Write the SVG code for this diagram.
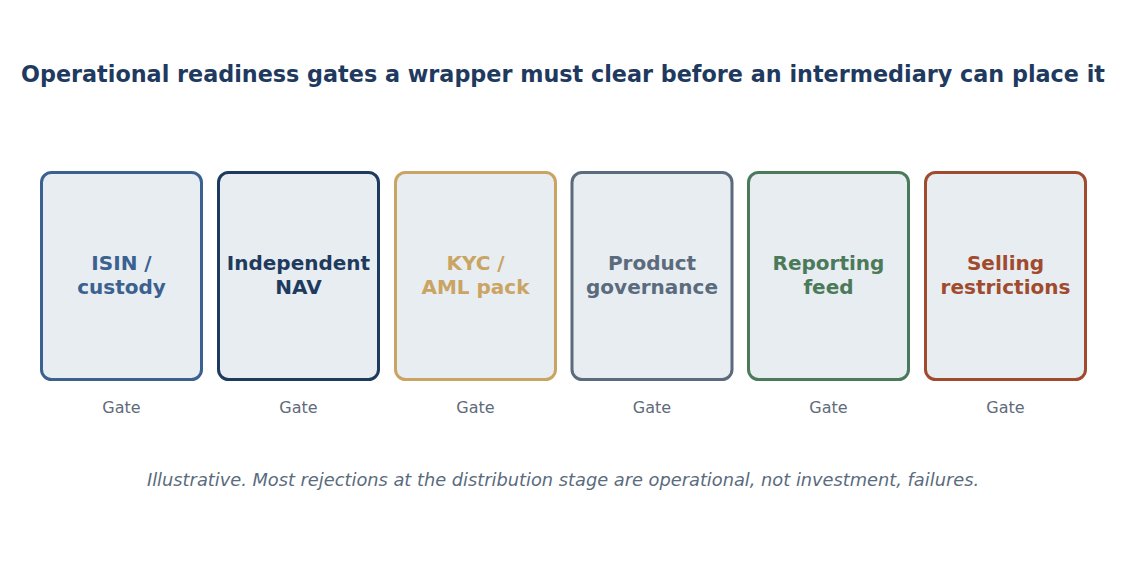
<svg xmlns="http://www.w3.org/2000/svg" width="1127" height="563" viewBox="0 0 1127 563">
<style>
text{font-family:"DejaVu Sans",sans-serif;text-anchor:middle}
.t{font-size:22.3px;font-weight:bold;fill:#1f3a5f}
.b{fill:#e8edf1;stroke-width:3}
.l{font-size:20px;font-weight:bold}
.g{font-size:16px;fill:#5f6b7a}
.c{font-size:17.8px;font-style:italic;fill:#5a6b7d}
</style>
<rect width="1127" height="563" fill="#fff"/>
<text class="t" x="563" y="82">Operational readiness gates a wrapper must clear before an intermediary can place it</text>
<g id="n1"><rect class="b" x="41.5" y="172.5" width="160" height="207" rx="10" stroke="#3a6190"/><text class="l" fill="#3a6190" x="121.5" y="270">ISIN /</text><text class="l" fill="#3a6190" x="121.5" y="294">custody</text><text class="g" x="121.5" y="413">Gate</text></g>
<g id="n2"><rect class="b" x="218.5" y="172.5" width="160" height="207" rx="10" stroke="#1f3a5f"/><text class="l" fill="#1f3a5f" x="298.5" y="270">Independent</text><text class="l" fill="#1f3a5f" x="298.5" y="294">NAV</text><text class="g" x="298.5" y="413">Gate</text></g>
<g id="n3"><rect class="b" x="395.5" y="172.5" width="160" height="207" rx="10" stroke="#c9a463"/><text class="l" fill="#c9a463" x="475.5" y="270">KYC /</text><text class="l" fill="#c9a463" x="475.5" y="294">AML pack</text><text class="g" x="475.5" y="413">Gate</text></g>
<g id="n4"><rect class="b" x="572" y="172.5" width="160" height="207" rx="10" stroke="#5a6b7d"/><text class="l" fill="#5a6b7d" x="652" y="270">Product</text><text class="l" fill="#5a6b7d" x="652" y="294">governance</text><text class="g" x="652" y="413">Gate</text></g>
<g id="n5"><rect class="b" x="748.5" y="172.5" width="160" height="207" rx="10" stroke="#4a7a5a"/><text class="l" fill="#4a7a5a" x="828.5" y="270">Reporting</text><text class="l" fill="#4a7a5a" x="828.5" y="294">feed</text><text class="g" x="828.5" y="413">Gate</text></g>
<g id="n6"><rect class="b" x="925.5" y="172.5" width="160" height="207" rx="10" stroke="#a04a2e"/><text class="l" fill="#a04a2e" x="1005.5" y="270">Selling</text><text class="l" fill="#a04a2e" x="1005.5" y="294">restrictions</text><text class="g" x="1005.5" y="413">Gate</text></g>
<g id="connectors"/>
<text class="c" x="563" y="486">Illustrative. Most rejections at the distribution stage are operational, not investment, failures.</text>
</svg>
